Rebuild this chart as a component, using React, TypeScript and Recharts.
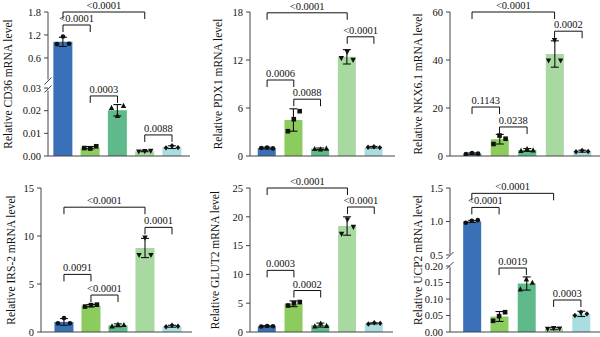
import React from 'react';
import { ComposedChart, Bar, Cell, XAxis, YAxis, Scatter, ErrorBar, ReferenceLine } from 'recharts';

// ---------- data ----------
const groups = ['G1', 'G2', 'G3', 'G4', 'G5'];
const colors = ['#3a70b8', '#8ccb5e', '#5fb98a', '#a8d9a0', '#a9dde0'];

// CD36 (broken axis)
const cd36Mean = [1.02, 0.0037, 0.0202, 0.0021, 0.0039];
const cd36Sd = [0.12, 0.0005, 0.0025, 0.0002, 0.0006];
const cd36Reps = [[0.96, 1.16, 0.97], [0.0035, 0.0033, 0.0043], [0.0213, 0.0178, 0.0222], [0.0019, 0.0021, 0.0022], [0.0036, 0.0045, 0.0037]];
const cd36Ticks = [0, 0.01, 0.02, 0.03, 0.6, 1.2, 1.8];
const cd36TickLabels = ['0.00', '0.01', '0.02', '0.03', '0.6', '1.2', '1.8'];
const cd36Brackets = [
  { from: 0, to: 3, at: 1.8, text: '<0.0001' },
  { from: 0, to: 1, at: 1.46, text: '<0.0001' },
  { from: 1, to: 2, at: 0.0265, text: '0.0003' },
  { from: 3, to: 4, at: 0.0093, text: '0.0088' },
];

// PDX1
const pdx1Mean = [1.0, 4.5, 0.9, 12.4, 1.1];
const pdx1Sd = [0.1, 1.4, 0.1, 0.9, 0.1];
const pdx1Reps = [[1.0, 1.05, 0.95], [3.1, 4.6, 5.6], [0.9, 0.85, 0.95], [12.2, 13.0, 12.0], [1.1, 1.15, 1.05]];
const pdx1Ticks = [0, 6, 12, 18];
const pdx1Brackets = [
  { from: 0, to: 3, at: 17.9, text: '<0.0001' },
  { from: 3, to: 4, at: 14.9, text: '<0.0001' },
  { from: 0, to: 1, at: 9.5, text: '0.0006' },
  { from: 1, to: 2, at: 7.1, text: '0.0088' },
];

// NKX6.1
const nkxMean = [1.0, 7.0, 2.5, 42.5, 2.0];
const nkxSd = [0.3, 2.0, 0.6, 5.5, 0.4];
const nkxReps = [[0.8, 1.2, 1.0], [5.0, 8.5, 7.2], [2.2, 3.0, 2.4], [39.7, 48.2, 39.7], [1.8, 2.3, 1.9]];
const nkxTicks = [0, 20, 40, 60];
const nkxBrackets = [
  { from: 0, to: 3, at: 60, text: '<0.0001' },
  { from: 3, to: 4, at: 52, text: '0.0002' },
  { from: 0, to: 1, at: 20.4, text: '0.1143' },
  { from: 1, to: 2, at: 12.1, text: '0.0238' },
];

// IRS-2
const irsMean = [1.05, 2.75, 0.7, 8.75, 0.6];
const irsSd = [0.35, 0.12, 0.15, 1.0, 0.1];
const irsReps = [[0.9, 1.45, 0.9], [2.65, 2.8, 2.85], [0.6, 0.8, 0.75], [8.0, 9.8, 8.0], [0.55, 0.7, 0.6]];
const irsTicks = [0, 5, 10, 15];
const irsBrackets = [
  { from: 0, to: 3, at: 13.0, text: '<0.0001' },
  { from: 3, to: 4, at: 10.9, text: '0.0001' },
  { from: 0, to: 1, at: 6.0, text: '0.0091' },
  { from: 1, to: 2, at: 3.85, text: '<0.0001' },
];

// GLUT2
const glutMean = [1.0, 4.9, 1.2, 18.4, 1.5];
const glutSd = [0.1, 0.5, 0.35, 1.6, 0.1];
const glutReps = [[0.95, 1.05, 1.0], [4.6, 5.0, 5.2], [1.0, 1.5, 1.1], [17.0, 19.5, 18.2], [1.4, 1.6, 1.5]];
const glutTicks = [0, 5, 10, 15, 20, 25];
const glutBrackets = [
  { from: 0, to: 3, at: 25, text: '<0.0001' },
  { from: 3, to: 4, at: 21.7, text: '<0.0001' },
  { from: 0, to: 1, at: 10.7, text: '0.0003' },
  { from: 1, to: 2, at: 7.2, text: '0.0002' },
];

// UCP2 (broken axis)
const ucpMean = [1.0, 0.047, 0.147, 0.010, 0.055];
const ucpSd = [0.015, 0.015, 0.02, 0.003, 0.008];
const ucpReps = [[0.98, 1.01, 1.02], [0.034, 0.048, 0.06], [0.13, 0.16, 0.15], [0.009, 0.011, 0.01], [0.05, 0.06, 0.055]];
const ucpTicks = [0, 0.05, 0.1, 0.15, 0.2, 0.5, 1.0, 1.5];
const ucpTickLabels = ['0.00', '0.05', '0.10', '0.15', '0.20', '0.5', '1.0', '1.5'];
const ucpBrackets = [
  { from: 0, to: 3, at: 1.42, text: '<0.0001' },
  { from: 0, to: 1, at: 1.21, text: '<0.0001' },
  { from: 1, to: 2, at: 0.194, text: '0.0019' },
  { from: 3, to: 4, at: 0.097, text: '0.0003' },
];

// ---------- styling ----------
const FONT = "'Liberation Serif', 'DejaVu Serif', serif";
const INK = '#111';
const AXIS = '#444';
const JITTER = [-0.22, 0, 0.22];
const PLOT_H = 144;

type Brk = { lowMax: number; upMin: number; upMax: number; fl: number; fu: number; s1: number; s2: number };

function makeTf(b?: Brk) {
  if (!b) return (v: number) => v;
  return (v: number) =>
    v <= b.lowMax ? (v / b.lowMax) * b.fl : b.fu + ((v - b.upMin) / (b.upMax - b.upMin)) * (1 - b.fu);
}

function Marker(props: any) {
  const { cx, cy, payload } = props;
  if (cx == null || cy == null) return null;
  const g = payload.g;
  const s = 2.3;
  if (g === 0) return <circle cx={cx} cy={cy} r={s} fill={INK} />;
  if (g === 1) return <rect x={cx - s} y={cy - s} width={2 * s} height={2 * s} fill={INK} />;
  if (g === 2) return <polygon points={`${cx},${cy - s - 0.6} ${cx - s - 0.4},${cy + s} ${cx + s + 0.4},${cy + s}`} fill={INK} />;
  if (g === 3) return <polygon points={`${cx},${cy + s + 0.6} ${cx - s - 0.4},${cy - s} ${cx + s + 0.4},${cy - s}`} fill={INK} />;
  return <polygon points={`${cx},${cy - s - 0.4} ${cx + s},${cy} ${cx},${cy + s + 0.4} ${cx - s},${cy}`} fill={INK} />;
}

type PanelProps = {
  left: number; top: number; width: number; height: number;
  yWidth: number; mTop: number; mBottom: number; mRight: number;
  xDomain: [number, number]; barSize: number; label: string; labelX: number;
  means: number[]; sds: number[]; reps: number[][];
  brackets: { from: number; to: number; at: number; text: string }[];
  ticks: number[]; tickLabels?: string[]; brk?: Brk;
};

function Panel(p: PanelProps) {
  const tf = makeTf(p.brk);
  const dMax = p.brk ? 1 : p.ticks[p.ticks.length - 1];
  const pxY = dMax / PLOT_H;
  const pxX = (p.xDomain[1] - p.xDomain[0]) / (p.width - p.yWidth - p.mRight);
  const bars = p.means.map((m, i) => ({
    x: i,
    name: groups[i],
    y: tf(m),
    err: [tf(m) - tf(Math.max(0, m - p.sds[i])), tf(m + p.sds[i]) - tf(m)],
  }));
  const pts = p.reps.flatMap((arr, i) => arr.map((v, j) => ({ x: i + JITTER[j], p: tf(v), g: i })));
  const yTicks = p.ticks.map(tf);
  const leg = 7 * pxY;
  const x0 = p.xDomain[0];
  const lineProps = { stroke: INK, strokeWidth: 1, ifOverflow: 'visible' as const };

  const refs: React.ReactNode[] = [];
  p.brackets.forEach((b, k) => {
    const T = tf(b.at);
    refs.push(
      <ReferenceLine key={`h${k}`} segment={[{ x: b.from, y: T }, { x: b.to, y: T }]} {...lineProps}
        label={{ value: b.text, position: 'top', offset: 3, fontSize: 10.5, fill: INK, fontFamily: FONT }} />,
      <ReferenceLine key={`l${k}`} segment={[{ x: b.from, y: T }, { x: b.from, y: T - leg }]} {...lineProps} />,
      <ReferenceLine key={`r${k}`} segment={[{ x: b.to, y: T }, { x: b.to, y: T - leg }]} {...lineProps} />
    );
  });
  if (p.brk) {
    const a = p.brk.s1, c = p.brk.s2;
    const dx = 3.5 * pxX, dy = 3.5 * pxY, gap = 1.5 * pxY;
    const ax = { stroke: AXIS, strokeWidth: 1, ifOverflow: 'visible' as const };
    refs.push(
      <ReferenceLine key="ax1" segment={[{ x: x0, y: 0 }, { x: x0, y: a - gap }]} {...ax} />,
      <ReferenceLine key="ax2" segment={[{ x: x0, y: c + gap }, { x: x0, y: 1 }]} {...ax} />,
      <ReferenceLine key="s1" segment={[{ x: x0 - dx, y: a - dy }, { x: x0 + dx, y: a + dy }]} {...ax} />,
      <ReferenceLine key="s2" segment={[{ x: x0 - dx, y: c - dy }, { x: x0 + dx, y: c + dy }]} {...ax} />
    );
  }

  return (
    <div style={{ position: 'absolute', left: p.left, top: p.top }}>
      <ComposedChart width={p.width} height={p.height} data={bars}
        margin={{ top: p.mTop, right: p.mRight, bottom: p.mBottom, left: 0 }}>
        <XAxis type="number" dataKey="x" domain={p.xDomain} allowDataOverflow tick={false} tickLine={false}
          height={1} axisLine={{ stroke: AXIS, strokeWidth: 1.2 }} />
        <XAxis xAxisId="pts" type="number" dataKey="x" domain={p.xDomain} allowDataOverflow hide />
        <YAxis type="number" domain={[0, dMax]} allowDataOverflow ticks={yTicks} interval={0} width={p.yWidth}
          axisLine={p.brk ? false : { stroke: AXIS, strokeWidth: 1 }}
          tickLine={{ stroke: AXIS }} tickSize={4} tickMargin={3}
          tick={{ fontSize: 10.5, fill: INK, fontFamily: FONT }}
          tickFormatter={(v: number, i: number) => (p.tickLabels ? p.tickLabels[i] : String(p.ticks[i] ?? v))}
          label={{ value: p.label, angle: -90, position: 'insideLeft', offset: p.labelX,
            style: { textAnchor: 'middle', fontSize: 11.5, fill: INK, fontFamily: FONT } }} />
        <Bar dataKey="y" barSize={p.barSize} isAnimationActive={false}>
          {bars.map((_, i) => <Cell key={i} fill={colors[i]} />)}
          <ErrorBar dataKey="err" width={4} stroke={INK} strokeWidth={1.1} direction="y" />
        </Bar>
        <Scatter xAxisId="pts" data={pts} dataKey="p" shape={Marker} isAnimationActive={false} />
        {refs}
      </ComposedChart>
    </div>
  );
}

export default function App() {
  return (
    <div className="fig" style={{ position: 'absolute', left: 0, top: 0, width: 600, height: 337, background: '#fff', overflow: 'hidden', fontFamily: FONT }}>
      <style>{`.fig text, .fig tspan { font-family: 'Liberation Serif', 'DejaVu Serif', serif !important; }`}</style>
      <Panel left={0} top={0} width={200} height={168} yWidth={48} mTop={12} mBottom={11} mRight={10}
        xDomain={[-0.55, 4.66]} barSize={19} label="Relative CD36 mRNA level" labelX={8}
        means={cd36Mean} sds={cd36Sd} reps={cd36Reps} brackets={cd36Brackets}
        ticks={cd36Ticks} tickLabels={cd36TickLabels}
        brk={{ lowMax: 0.03, upMin: 0.6, upMax: 1.8, fl: 0.472, fu: 0.681, s1: 0.465, s2: 0.521 }} />
      <Panel left={200} top={0} width={200} height={168} yWidth={50} mTop={12} mBottom={11} mRight={5}
        xDomain={[-0.64, 4.79]} barSize={18} label="Relative PDX1 mRNA level" labelX={18}
        means={pdx1Mean} sds={pdx1Sd} reps={pdx1Reps} brackets={pdx1Brackets} ticks={pdx1Ticks} />
      <Panel left={400} top={0} width={200} height={168} yWidth={50} mTop={12} mBottom={11} mRight={0}
        xDomain={[-0.8, 4.65]} barSize={18} label="Relative NKX6.1 mRNA level" labelX={18}
        means={nkxMean} sds={nkxSd} reps={nkxReps} brackets={nkxBrackets} ticks={nkxTicks} />
      <Panel left={0} top={168} width={200} height={169} yWidth={41} mTop={20} mBottom={4} mRight={8}
        xDomain={[-0.85, 4.74]} barSize={19} label="Relative IRS-2 mRNA level" labelX={11}
        means={irsMean} sds={irsSd} reps={irsReps} brackets={irsBrackets} ticks={irsTicks} />
      <Panel left={200} top={168} width={200} height={169} yWidth={50} mTop={20} mBottom={4} mRight={7}
        xDomain={[-0.64, 4.7]} barSize={18} label="Relative GLUT2 mRNA level" labelX={15}
        means={glutMean} sds={glutSd} reps={glutReps} brackets={glutBrackets} ticks={glutTicks} />
      <Panel left={400} top={168} width={200} height={169} yWidth={50} mTop={20} mBottom={4} mRight={0}
        xDomain={[-0.8, 4.7]} barSize={18} label="Relative UCP2 mRNA level" labelX={18}
        means={ucpMean} sds={ucpSd} reps={ucpReps} brackets={ucpBrackets}
        ticks={ucpTicks} tickLabels={ucpTickLabels}
        brk={{ lowMax: 0.2, upMin: 0.5, upMax: 1.5, fl: 0.458, fu: 0.535, s1: 0.462, s2: 0.531 }} />
    </div>
  );
}
